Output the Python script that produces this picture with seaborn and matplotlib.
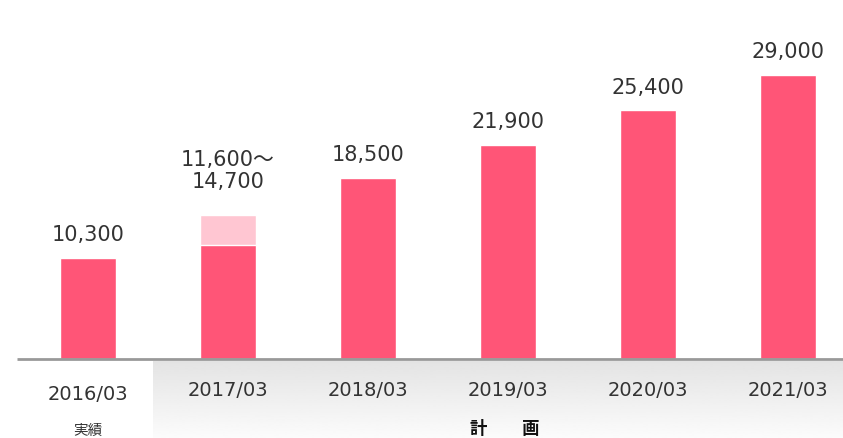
import numpy as np
import pandas as pd
import matplotlib
matplotlib.use("Agg")
import matplotlib.pyplot as plt
import seaborn as sns
from matplotlib import transforms

sns.set_style("white")
plt.rcParams["font.family"] = ["DejaVu Sans", "Noto Sans CJK JP"]

# Fiscal years (March year-end) and sales figures
periods = ["2016/03", "2017/03", "2018/03", "2019/03", "2020/03", "2021/03"]
sales_low = [10300, 11600, 18500, 21900, 25400, 29000]
sales_high = [10300, 14700, 18500, 21900, 25400, 29000]
value_labels = ["10,300", "11,600～\n14,700", "18,500", "21,900", "25,400", "29,000"]
actual_label = "実績"
plan_label = "計　　画"

df = pd.DataFrame({"period": periods, "low": sales_low, "high": sales_high})

BAR = "#FF5577"
BAR_RANGE = "#FFC6D2"
TEXT = "#333333"
CJK = ["Noto Sans CJK JP", "DejaVu Sans"]

fig = plt.figure(figsize=(8.43, 4.38), dpi=100)
ax = fig.add_axes([0, 0, 1, 1])

# upper end of the forecast range, then the firm values on top
sns.barplot(data=df, x="period", y="high", color=BAR_RANGE, width=0.4,
            saturation=1, ax=ax, zorder=2)
sns.barplot(data=df, x="period", y="low", color=BAR, width=0.4,
            saturation=1, ax=ax, zorder=3)

ax.set_xlim(-0.6286, 5.393)
ax.set_ylim(-8067, 36658)
ax.axis("off")

# baseline
ax.plot([-0.507, 5.393], [0, 0], color="#999999", lw=2, zorder=4,
        solid_capstyle="butt")

# shaded band under the plan years: darker at the top, fading downwards
grad = np.linspace(0.893, 0.985, 64).reshape(-1, 1)
ax.imshow(grad, cmap="gray", vmin=0, vmax=1, aspect="auto", origin="upper",
          extent=[153 / 843, 1, 0, 77 / 438], transform=ax.transAxes,
          zorder=0, interpolation="bilinear")

# value labels above each bar
for i, (lab, top) in enumerate(zip(value_labels, sales_high)):
    gap = 19.4 if "\n" in lab else 12
    ax.annotate(lab, (i, top), xytext=(0, gap), textcoords="offset points",
                ha="center", va="baseline", fontsize=15, color=TEXT,
                linespacing=1.15, zorder=5)

# period labels under the axis
bt = transforms.blended_transform_factory(ax.transData, ax.transAxes)
for i, p in enumerate(periods):
    y = (438 - 394.5) / 438 if i == 0 else (438 - 390.5) / 438
    ax.text(i, y, p, transform=bt, ha="center", va="center",
            fontsize=14, color=TEXT)

ax.text(0, (438 - 430.5) / 438, actual_label, transform=bt, ha="center",
        va="center", fontsize=10.5, color="#333333", family=CJK)
ax.text(2.98, (438 - 429.5) / 438, plan_label, transform=bt, ha="center",
        va="center", fontsize=12.5, fontweight="bold", color="#111111",
        family=CJK)

fig.savefig("out.png", dpi=100)
